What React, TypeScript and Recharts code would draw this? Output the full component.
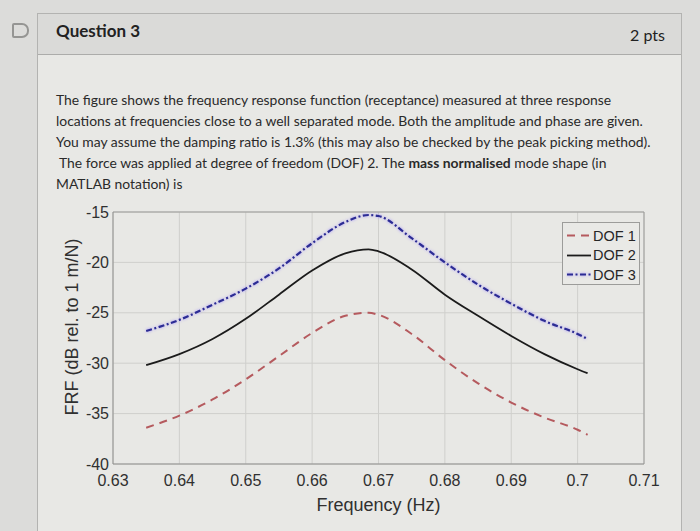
import { CartesianGrid, Line, LineChart, ReferenceLine, XAxis, YAxis } from "recharts";

// frequency points (Hz) and FRF amplitude (dB rel. to 1 m/N)
const freq = [0.635, 0.64, 0.645, 0.65, 0.655, 0.66, 0.665, 0.6685, 0.67, 0.675, 0.68, 0.685, 0.69, 0.695, 0.7, 0.7015];
const dof1 = [-36.4, -35.2, -33.6, -31.6, -29.3, -27.0, -25.3, -25.0, -25.2, -27.1, -29.7, -32.0, -33.9, -35.4, -36.6, -37.1];
const dof2 = [-30.2, -29.1, -27.6, -25.6, -23.2, -20.8, -19.1, -18.7, -18.9, -20.7, -23.2, -25.3, -27.3, -29.1, -30.6, -31.0];
const dof3 = [-26.8, -25.7, -24.2, -22.6, -20.6, -18.1, -16.0, -15.3, -15.4, -17.6, -20.0, -22.2, -24.1, -25.8, -27.1, -27.6];

const xTicks = [0.63, 0.64, 0.65, 0.66, 0.67, 0.68, 0.69, 0.7, 0.71];
const yTicks = [-40, -35, -30, -25, -20, -15];
const seriesNames = ["DOF 1", "DOF 2", "DOF 3"];

const data = freq.map((f, i) => ({ f, dof1: dof1[i], dof2: dof2[i], dof3: dof3[i] }));

const series = [
  { key: "dof1", name: seriesNames[0], stroke: "#b55a5e", dash: "8 6", width: 2 },
  { key: "dof2", name: seriesNames[1], stroke: "#1b1b1b", dash: undefined, width: 1.8 },
  { key: "dof3", name: seriesNames[2], stroke: "#2c2c94", dash: "6 2.5 2 2.5", width: 2.2 },
];

const axisFont = "'Liberation Sans', Arial, sans-serif";
const tickStyle = { fill: "#303030", fontSize: 16, fontFamily: axisFont };

function YLabel({ viewBox }: any) {
  const x = (viewBox?.x ?? 0) + 72;
  const y = 327 - 195;
  return (
    <text
      x={x}
      y={y}
      transform={`rotate(-90, ${x}, ${y})`}
      textAnchor="middle"
      dominantBaseline="central"
      fill="#303030"
      fontSize={18}
      fontFamily={axisFont}
    >
      FRF (dB rel. to 1 m/N)
    </text>
  );
}

function LegendBox() {
  return (
    <div
      style={{
        position: "absolute",
        left: 562,
        top: 222,
        width: 76,
        height: 61,
        border: "1px solid #9c9c9a",
        background: "#e9e9e6",
        fontFamily: axisFont,
        fontSize: 14.5,
        color: "#262626",
      }}
    >
      {series.map((s, i) => (
        <div
          key={s.key}
          style={{ position: "absolute", left: 3, top: 3 + i * 19.5, height: 19, display: "flex", alignItems: "center" }}
        >
          <svg width={25} height={19} className={s.key === "dof3" ? "glow" : undefined}>
            <line x1={1} y1={9.5} x2={25} y2={9.5} stroke={s.stroke} strokeWidth={s.width} strokeDasharray={s.dash} />
          </svg>
          <span style={{ marginLeft: 2 }}>{s.name}</span>
        </div>
      ))}
    </div>
  );
}

export default function App() {
  return (
    <div
      style={{
        position: "absolute",
        left: 0,
        top: 0,
        width: 700,
        height: 531,
        overflow: "hidden",
        background: "#dcdcda",
        fontFamily: "Lato, 'Open Sans', sans-serif",
      }}
    >
      <style>{`.glow line, .glow path { filter: drop-shadow(0 0 1.5px rgba(150,130,255,0.85)); }`}</style>

      {/* quiz card */}
      <div
        style={{
          position: "absolute",
          left: 37,
          top: 13,
          width: 643,
          height: 540,
          background: "#e8e8e5",
          border: "1px solid #b3b3b1",
        }}
      >
        <div style={{ height: 40, background: "#dadad8", borderBottom: "1px solid #acacaa" }} />
      </div>

      {/* flag icon */}
      <div
        style={{
          position: "absolute",
          left: 12,
          top: 23,
          width: 13,
          height: 11,
          border: "2px solid #959593",
          borderRadius: "2px 7px 7px 2px",
        }}
      />

      <div style={{ position: "absolute", left: 56, top: 20, fontSize: 17, fontWeight: 700, color: "#222" }}>
        Question 3
      </div>
      <div style={{ position: "absolute", left: 630, top: 25, fontSize: 16, color: "#222" }}>2 pts</div>

      <div
        style={{
          position: "absolute",
          left: 56,
          top: 89,
          fontSize: 13.9,
          lineHeight: "21px",
          color: "#2a2a2a",
          whiteSpace: "nowrap",
        }}
      >
        <div>The figure shows the frequency response function (receptance) measured at three response</div>
        <div>locations at frequencies close to a well separated mode. Both the amplitude and phase are given.</div>
        <div>You may assume the damping ratio is 1.3% (this may also be checked by the peak picking method).</div>
        <div style={{ paddingLeft: 3 }}>
          The force was applied at degree of freedom (DOF) 2. The <b>mass normalised</b> mode shape (in
        </div>
        <div>MATLAB notation) is</div>
      </div>

      <div style={{ position: "absolute", left: 0, top: 195 }}>
        <LineChart width={700} height={336} data={data} margin={{ top: 17, right: 56, bottom: 0, left: 0 }}>
          <CartesianGrid stroke="#cfcfcc" strokeWidth={1} />
          <XAxis
            dataKey="f"
            type="number"
            domain={[0.63, 0.71]}
            ticks={xTicks}
            tickFormatter={(v) => String(v)}
            tick={tickStyle}
            tickLine={false}
            tickSize={0}
            tickMargin={11}
            axisLine={{ stroke: "#8e8e8c" }}
            height={67}
            label={{
              value: "Frequency (Hz)",
              position: "insideBottom",
              offset: 20,
              fill: "#303030",
              fontSize: 18,
              fontFamily: axisFont,
            }}
          />
          <YAxis
            type="number"
            domain={[-40, -15]}
            ticks={yTicks}
            tick={tickStyle}
            tickLine={false}
            tickSize={0}
            tickMargin={4}
            axisLine={{ stroke: "#8e8e8c" }}
            width={113}
            label={<YLabel />}
          />
          <ReferenceLine y={-15} stroke="#9a9a98" />
          <ReferenceLine x={0.71} stroke="#9a9a98" />
          {series.map((s) => (
            <Line
              key={s.key}
              className={s.key === "dof3" ? "glow" : undefined}
              type="monotone"
              dataKey={s.key}
              name={s.name}
              stroke={s.stroke}
              strokeWidth={s.width}
              strokeDasharray={s.dash}
              dot={false}
              isAnimationActive={false}
            />
          ))}
        </LineChart>
      </div>

      <LegendBox />
    </div>
  );
}
